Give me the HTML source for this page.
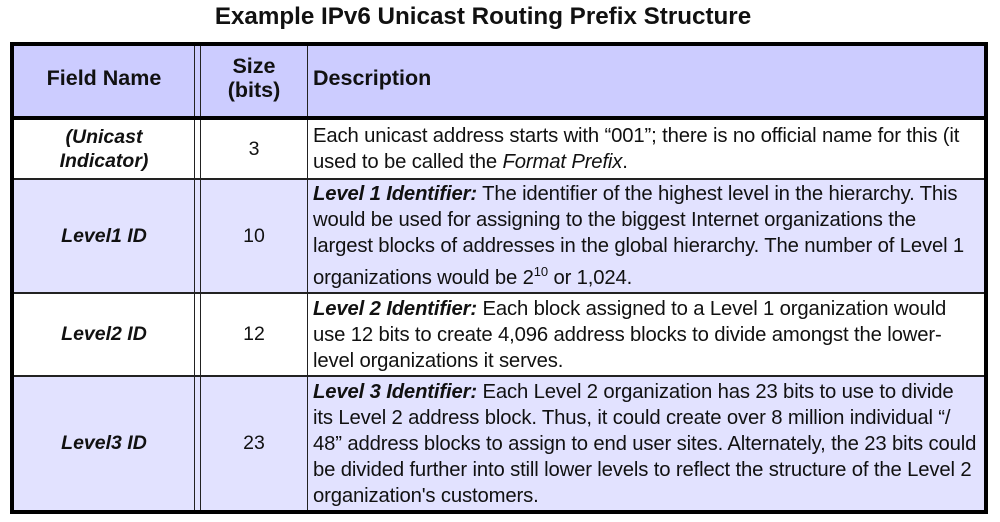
<!DOCTYPE html>
<html><head><style>
body{margin:0;width:1000px;height:522px;background:#fff;font-family:"Liberation Sans",Arial,sans-serif;color:#111;position:relative;overflow:hidden}
.t{position:absolute;left:-17px;width:1000px;top:3px;text-align:center;font-weight:bold;font-size:24.2px}
.box{position:absolute;left:10px;top:42px;width:970px;height:464px;border:4px solid #000;background:#fff}
.r{position:absolute;left:0;width:970px;border-bottom:2px solid #222}
.c{position:absolute;top:0;bottom:0;display:flex;align-items:center;font-size:19.5px}
.c1{left:0;width:180px;justify-content:center;text-align:center;font-weight:bold;font-style:italic;border-right:1px solid #222}
.c2{left:186px;width:106px;justify-content:center;text-align:center;border-left:1px solid #222;border-right:1px solid #222}
.c3{left:299px;width:670px;line-height:26px;font-size:20.3px;white-space:nowrap;letter-spacing:-0.15px}
.h .c1,.h .c2,.h .c3{font-style:normal;font-weight:bold;font-size:21.5px;line-height:24px;letter-spacing:0}
.h .c1,.h .c2,.h .c3{padding-bottom:6px}
.lav{background:#e2e2ff}
</style></head><body>
<div class="t">Example IPv6 Unicast Routing Prefix Structure</div>
<div class="box">
<div class="r h" style="top:0;height:70px;background:#ccccff;border-bottom:4px solid #000">
<div class="c c1">Field Name</div><div class="c c2">Size<br>(bits)</div><div class="c c3">Description</div></div>
<div class="r" style="top:74px;height:58px">
<div class="c c1" style="line-height:24px">(Unicast<br>Indicator)</div><div class="c c2">3</div><div class="c c3"><div>Each unicast address starts with “001”; there is no official name for this (it<br>used to be called the <i>Format Prefix</i>.</div></div></div>
<div class="r lav" style="top:134px;height:112px">
<div class="c c1">Level1 ID</div><div class="c c2">10</div><div class="c c3"><div><b><i>Level 1 Identifier:</i></b> The identifier of the highest level in the hierarchy. This<br>would be used for assigning to the biggest Internet organizations the<br>largest blocks of addresses in the global hierarchy. The number of Level 1<br>organizations would be 2<sup style="font-size:13px">10</sup> or 1,024.</div></div></div>
<div class="r" style="top:248px;height:81px">
<div class="c c1">Level2 ID</div><div class="c c2">12</div><div class="c c3"><div><b><i>Level 2 Identifier:</i></b> Each block assigned to a Level 1 organization would<br>use 12 bits to create 4,096 address blocks to divide amongst the lower-<br>level organizations it serves.</div></div></div>
<div class="r lav" style="top:331px;height:133px;border-bottom:none">
<div class="c c1">Level3 ID</div><div class="c c2">23</div><div class="c c3"><div><b><i>Level 3 Identifier:</i></b> Each Level 2 organization has 23 bits to use to divide<br>its Level 2 address block. Thus, it could create over 8 million individual “/<br>48” address blocks to assign to end user sites. Alternately, the 23 bits could<br>be divided further into still lower levels to reflect the structure of the Level 2<br>organization's customers.</div></div></div>
</div>
</body></html>
